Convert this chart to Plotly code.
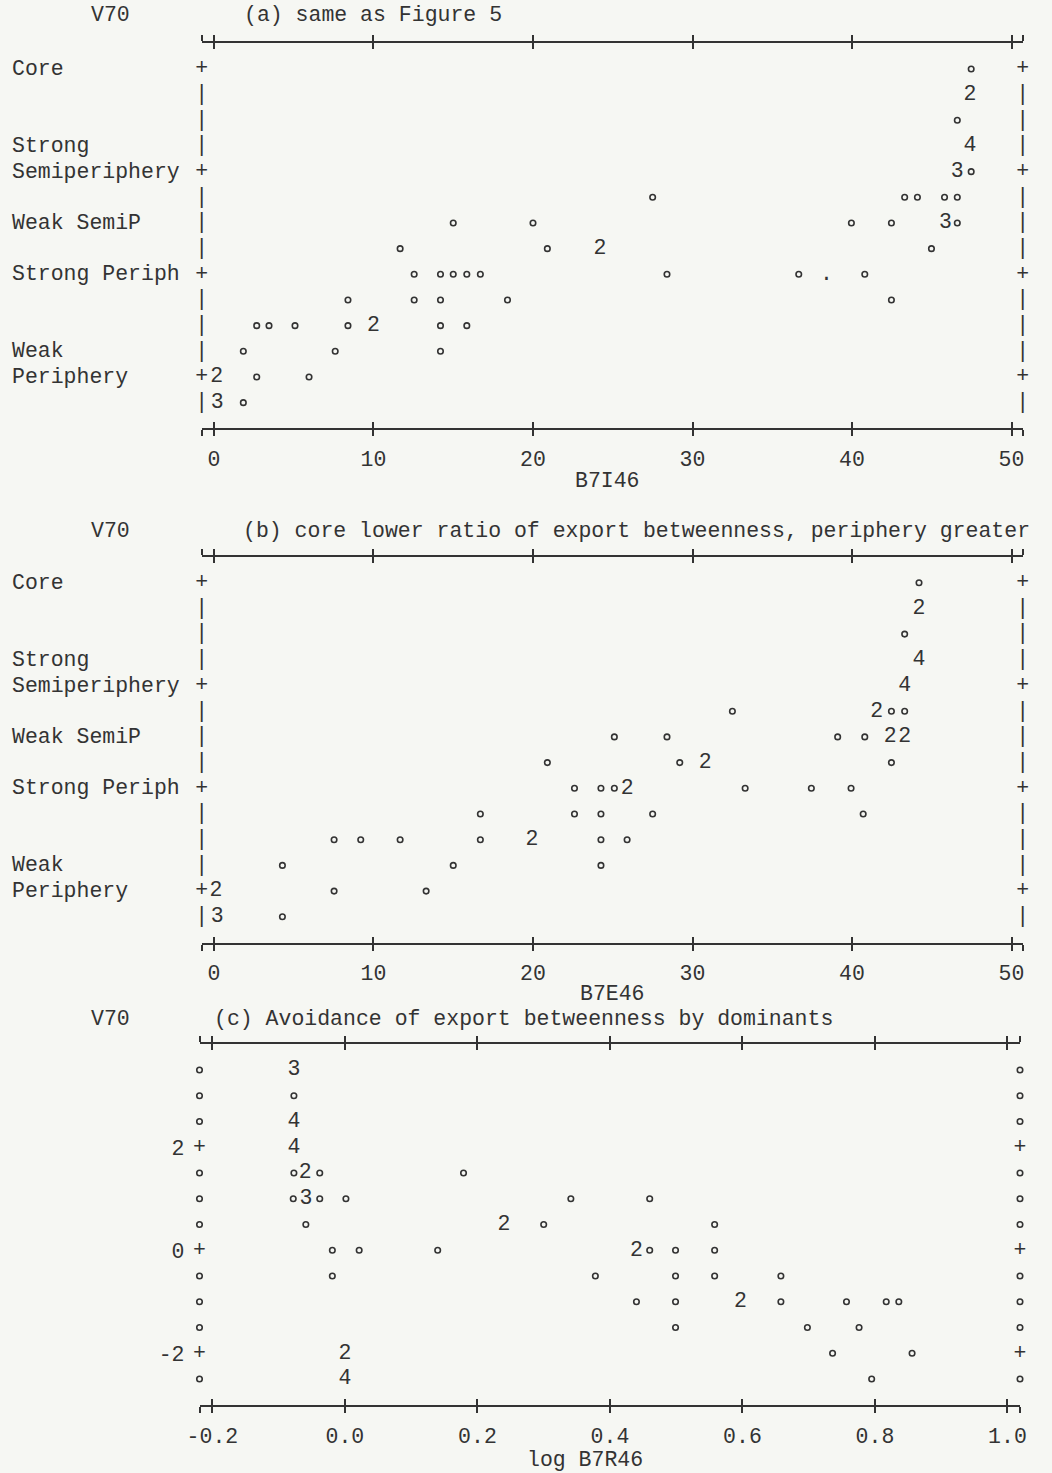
import plotly.graph_objects as go

W, H = 1052, 1473
INK = "#333333"
BG = "#f6f7f3"
FONT = "Liberation Mono, Courier New, monospace"
FS = 21.5

# ---------------- DATA ----------------
# Panel (a): V70 vs B7I46  (V70 coded: Weak Periphery=1 ... Core=4)
a_dot_x = [47.47, 46.6, 47.47,
           27.5, 43.3, 44.1, 45.8, 46.6,
           15.0, 20.0, 39.96, 42.47, 46.6,
           11.67, 20.9, 44.98,
           12.55, 14.2, 15.0, 15.85, 16.7, 28.4, 36.66, 40.8,
           8.4, 12.55, 14.2, 18.4, 42.47,
           2.68, 3.45, 5.08, 8.4, 14.2, 15.85,
           1.84, 7.6, 14.2,
           2.68, 5.96,
           1.84]
a_dot_y = [4.0, 3.5, 3.0,
           2.75, 2.75, 2.75, 2.75, 2.75,
           2.5, 2.5, 2.5, 2.5, 2.5,
           2.25, 2.25, 2.25,
           2.0, 2.0, 2.0, 2.0, 2.0, 2.0, 2.0, 2.0,
           1.75, 1.75, 1.75, 1.75, 1.75,
           1.5, 1.5, 1.5, 1.5, 1.5, 1.5,
           1.25, 1.25, 1.25,
           1.0, 1.0,
           0.75]
a_cnt_x = [47.4, 47.4, 46.6, 45.86, 24.2, 10.0, 0.17, 0.2]
a_cnt_y = [3.75, 3.25, 3.0, 2.5, 2.25, 1.5, 1.0, 0.75]
a_cnt_n = [2, 4, 3, 3, 2, 2, 2, 3]
a_hidden_x = [38.4]
a_hidden_y = [2.0]

# Panel (b): V70 vs B7E46
b_dot_x = [44.2, 43.3,
           32.5, 42.47, 43.3,
           25.1, 28.4, 39.1, 40.8,
           20.9, 29.2, 42.47,
           22.6, 24.26, 25.1, 33.3, 37.45, 39.94,
           16.7, 22.6, 24.26, 27.5, 40.7,
           7.53, 9.2, 11.67, 16.7, 24.26, 25.9,
           4.29, 15.0, 24.26,
           7.53, 13.3,
           4.29]
b_dot_y = [4.0, 3.5,
           2.75, 2.75, 2.75,
           2.5, 2.5, 2.5, 2.5,
           2.25, 2.25, 2.25,
           2.0, 2.0, 2.0, 2.0, 2.0, 2.0,
           1.75, 1.75, 1.75, 1.75, 1.75,
           1.5, 1.5, 1.5, 1.5, 1.5, 1.5,
           1.25, 1.25, 1.25,
           1.0, 1.0,
           0.75]
b_cnt_x = [44.2, 44.2, 43.3, 41.55, 42.4, 43.3, 30.8, 25.9, 19.93, 0.13, 0.2]
b_cnt_y = [3.75, 3.25, 3.0, 2.75, 2.5, 2.5, 2.25, 2.0, 1.5, 1.0, 0.75]
b_cnt_n = [2, 4, 4, 2, 2, 2, 2, 2, 2, 2, 3]

# Panel (c): V70 vs log B7R46
c_dot_x = [-0.077,
           -0.077, -0.038, 0.179,
           -0.078, -0.038, 0.0015, 0.341, 0.46,
           -0.059, 0.30, 0.558,
           -0.019, 0.0215, 0.14, 0.46, 0.499, 0.558,
           -0.019, 0.378, 0.499, 0.558, 0.658,
           0.44, 0.499, 0.658, 0.757, 0.817, 0.836,
           0.499, 0.698, 0.776,
           0.736, 0.856,
           0.795]
c_dot_y = [3.0,
           1.5, 1.5, 1.5,
           1.0, 1.0, 1.0, 1.0, 1.0,
           0.5, 0.5, 0.5,
           0.0, 0.0, 0.0, 0.0, 0.0, 0.0,
           -0.5, -0.5, -0.5, -0.5, -0.5,
           -1.0, -1.0, -1.0, -1.0, -1.0, -1.0,
           -1.5, -1.5, -1.5,
           -2.0, -2.0,
           -2.5]
c_cnt_x = [-0.077, -0.077, -0.077, -0.06, -0.059, 0.24, 0.44, 0.597, 0.0, 0.0]
c_cnt_y = [3.5, 2.5, 2.0, 1.5, 1.0, 0.5, 0.0, -1.0, -2.0, -2.5]
c_cnt_n = [3, 4, 4, 2, 3, 2, 2, 2, 2, 4]

# Axis ticks / labels
ab_xticks = [0, 10, 20, 30, 40, 50]
c_xticks = [-0.2, 0.0, 0.2, 0.4, 0.6, 0.8, 1.0]
c_xticklabels = ["-0.2", "0.0", "0.2", "0.4", "0.6", "0.8", "1.0"]
ab_yticks = [1, 2, 3, 4]
ab_cat_labels = ["Core", "Strong", "Semiperiphery", "Weak SemiP", "Strong Periph", "Weak", "Periphery"]
ab_cat_pos = [4.0, 3.25, 3.0, 2.5, 2.0, 1.25, 1.0]
c_yticks = [-2, 0, 2]
c_yticklabels = ["-2", "0", "2"]

panels = [
    dict(name="a", title="(a) same as Figure 5", xlabel="B7I46",
         dx=a_dot_x, dy=a_dot_y, cx=a_cnt_x, cy=a_cnt_y, cn=a_cnt_n,
         xr=[-0.77, 50.7], yr=[0.5, 4.25], px=(201.7, 1022.7), py=(43.3, 428.3),
         title_y=15, title_x=242, xlabel_xy=(608, 481)),
    dict(name="b", title="(b) core lower ratio of export betweenness, periphery greater", xlabel="B7E46",
         dx=b_dot_x, dy=b_dot_y, cx=b_cnt_x, cy=b_cnt_y, cn=b_cnt_n,
         xr=[-0.77, 50.7], yr=[0.5, 4.25], px=(201.7, 1022.7), py=(557.0, 942.5),
         title_y=531, title_x=241, xlabel_xy=(612, 994)),
    dict(name="c", title="(c) Avoidance of export betweenness by dominants", xlabel="log B7R46",
         dx=c_dot_x, dy=c_dot_y, cx=c_cnt_x, cy=c_cnt_y, cn=c_cnt_n,
         xr=[-0.2195, 1.0189], yr=[-3.0, 4.0], px=(199.5, 1020.0), py=(1044.2, 1404.8),
         title_y=1019, title_x=212, xlabel_xy=(585, 1460)),
]

fig = go.Figure()
layout = dict(width=W, height=H, margin=dict(l=0, r=0, t=0, b=0, pad=0, autoexpand=False),
              autosize=False, paper_bgcolor=BG, plot_bgcolor=BG, showlegend=False,
              font=dict(family=FONT, size=FS, color=INK))
annotations = []

dot_marker = dict(symbol="circle-open", size=5.5, color=INK, line=dict(width=1.6, color=INK))
txtfont = dict(family=FONT, size=FS, color=INK)

for i, p in enumerate(panels):
    k = i + 1
    xa = "x" if k == 1 else f"x{k}"
    ya = "y" if k == 1 else f"y{k}"
    xo = f"x{k + 3}"
    xdom = [p["px"][0] / W, p["px"][1] / W]
    ydom = [1 - p["py"][1] / H, 1 - p["py"][0] / H]

    if p["name"] in ("a", "b"):
        xt = [p["xr"][0]] + ab_xticks + [p["xr"][1]]
        xtt = [""] + [str(v) for v in ab_xticks] + [""]
    else:
        xt = [p["xr"][0]] + c_xticks + [p["xr"][1]]
        xtt = [""] + c_xticklabels + [""]

    layout["xaxis" + ("" if k == 1 else str(k))] = dict(
        domain=xdom, anchor=ya, range=p["xr"], showgrid=False, zeroline=False,
        showline=True, linewidth=2, linecolor=INK, mirror="allticks",
        ticks="outside", ticklen=6, tickwidth=1.6, tickcolor=INK,
        tickmode="array", tickvals=xt, ticktext=xtt, ticklabelstandoff=4,
        tickfont=txtfont, fixedrange=True, automargin=False)
    layout[f"xaxis{k + 3}"] = dict(
        overlaying=xa, anchor=ya, range=p["xr"], showgrid=False, zeroline=False,
        showline=False, mirror="allticks", ticks="inside", ticklen=6, tickwidth=1.6,
        tickcolor=INK, tickmode="array", tickvals=xt, showticklabels=False,
        fixedrange=True, automargin=False)

    yax = dict(domain=ydom, anchor=xa, range=p["yr"], showgrid=False, zeroline=False,
               showline=False, ticks="", fixedrange=True, automargin=False)
    if p["name"] == "c":
        yax.update(tickmode="array", tickvals=c_yticks, ticktext=c_yticklabels,
                   showticklabels=True, tickfont=txtfont, ticklabelstandoff=14)
    else:
        yax.update(showticklabels=False)
    layout["yaxis" + ("" if k == 1 else str(k))] = yax

    # invisible trace to anchor overlay axis
    fig.add_trace(go.Scatter(x=[], y=[], xaxis=xo, yaxis=ya, hoverinfo="skip"))

    # left/right frame made of printer characters
    if p["name"] in ("a", "b"):
        rows = [4.0 - 0.25 * r for r in range(14)]
        ticks = ab_yticks
    else:
        rows = [3.5 - 0.5 * r for r in range(13)]
        ticks = c_yticks
    plus_rows = [r for r in rows if any(abs(r - t) < 1e-9 for t in ticks)]
    other_rows = [r for r in rows if r not in plus_rows]
    edges = [p["xr"][0], p["xr"][1]]
    fig.add_trace(go.Scatter(
        x=[e for e in edges for _ in plus_rows], y=plus_rows * 2,
        mode="text", text=["+"] * (2 * len(plus_rows)), textfont=txtfont,
        textposition="middle center", xaxis=xa, yaxis=ya, hoverinfo="skip",
        cliponaxis=False))
    if p["name"] in ("a", "b"):
        fig.add_trace(go.Scatter(
            x=[e for e in edges for _ in other_rows], y=other_rows * 2,
            mode="text", text=["|"] * (2 * len(other_rows)), textfont=txtfont,
            textposition="middle center", xaxis=xa, yaxis=ya, hoverinfo="skip",
            cliponaxis=False))
    else:
        fig.add_trace(go.Scatter(
            x=[e for e in edges for _ in other_rows], y=other_rows * 2,
            mode="markers", marker=dot_marker, xaxis=xa, yaxis=ya, hoverinfo="skip",
            cliponaxis=False))

    # data: single observations
    fig.add_trace(go.Scatter(x=p["dx"], y=p["dy"], mode="markers", marker=dot_marker,
                             xaxis=xa, yaxis=ya, cliponaxis=False))
    # data: multiple observations (count symbol)
    fig.add_trace(go.Scatter(x=p["cx"], y=p["cy"], mode="text",
                             text=[str(n) for n in p["cn"]], textfont=txtfont,
                             textposition="middle center", xaxis=xa, yaxis=ya,
                             cliponaxis=False))
    if p["name"] == "a":
        fig.add_trace(go.Scatter(x=a_hidden_x, y=a_hidden_y, mode="text", text=["."],
                                 textfont=txtfont, textposition="middle center",
                                 xaxis=xa, yaxis=ya))

    # titles
    annotations.append(dict(text="V70", xref="paper", yref="paper", x=110 / W,
                            y=1 - p["title_y"] / H, xanchor="center", yanchor="middle",
                            showarrow=False, font=txtfont))
    annotations.append(dict(text=p["title"], xref="paper", yref="paper", x=p["title_x"] / W,
                            y=1 - p["title_y"] / H, xanchor="left", yanchor="middle",
                            showarrow=False, font=txtfont))
    annotations.append(dict(text=p["xlabel"], xref="paper", yref="paper",
                            x=p["xlabel_xy"][0] / W, y=1 - p["xlabel_xy"][1] / H,
                            xanchor="center", yanchor="middle", showarrow=False, font=txtfont))
    if p["name"] in ("a", "b"):
        for lab, pos in zip(ab_cat_labels, ab_cat_pos):
            annotations.append(dict(text=lab, xref="paper", yref=ya, x=10 / W, y=pos,
                                    xanchor="left", yanchor="middle", showarrow=False,
                                    font=txtfont))

layout["annotations"] = annotations
fig.update_layout(**layout)
fig.write_html("out.html", config={"displayModeBar": False},
               post_script="document.body.style.margin='0';document.body.style.overflow='hidden';")
